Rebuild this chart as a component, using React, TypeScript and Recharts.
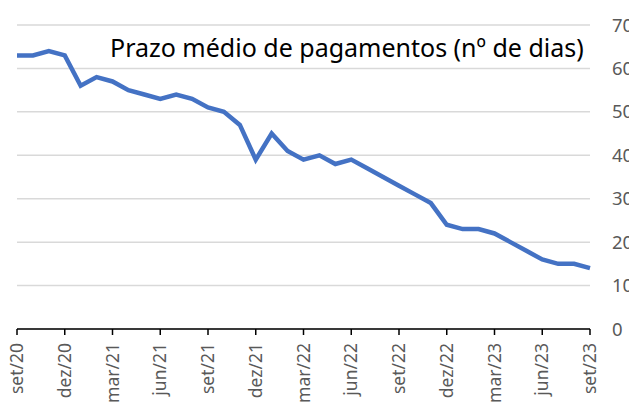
import { CartesianGrid, Line, LineChart, XAxis, YAxis } from "recharts";

const months = [
  "set/20", "out/20", "nov/20", "dez/20", "jan/21", "fev/21", "mar/21", "abr/21", "mai/21",
  "jun/21", "jul/21", "ago/21", "set/21", "out/21", "nov/21", "dez/21", "jan/22", "fev/22",
  "mar/22", "abr/22", "mai/22", "jun/22", "jul/22", "ago/22", "set/22", "out/22", "nov/22",
  "dez/22", "jan/23", "fev/23", "mar/23", "abr/23", "mai/23", "jun/23", "jul/23", "ago/23",
  "set/23",
];

const prazo = [
  63, 63, 64, 63, 56, 58, 57, 55, 54, 53, 54, 53, 51, 50, 47, 39, 45, 41, 39, 40, 38, 39,
  37, 35, 33, 31, 29, 24, 23, 23, 22, 20, 18, 16, 15, 15, 14,
];

const yTicks = [0, 10, 20, 30, 40, 50, 60, 70];

const data = months.map((m, i) => ({ month: m, prazo: prazo[i] }));

const font = "'Noto Sans', 'Open Sans', sans-serif";

function MonthTick(props: any) {
  const { x, y, payload } = props;
  return (
    <g transform={`translate(${x},${y})`}>
      <text
        transform="rotate(-90)"
        x={-8}
        y={0}
        dy="0.35em"
        textAnchor="end"
        fill="#595959"
        fontSize={17.5}
        fontFamily={font}
      >
        {payload.value}
      </text>
    </g>
  );
}

export default function App() {
  return (
    <div style={{ position: "absolute", left: 0, top: 0, background: "#fff" }}>
      <LineChart
        width={629}
        height={403}
        data={data}
        margin={{ top: 25, right: 0, bottom: 0, left: 17 }}
      >
        <CartesianGrid vertical={false} stroke="#d9d9d9" strokeWidth={1.5} />
        <XAxis
          dataKey="month"
          interval={2}
          height={74}
          stroke="#000"
          strokeWidth={1.5}
          tickSize={6}
          tickMargin={0}
          tick={<MonthTick />}
        />
        <YAxis
          orientation="right"
          domain={[0, 70]}
          ticks={yTicks}
          width={39}
          axisLine={false}
          tickLine={false}
          tickSize={0}
          tickMargin={22}
          tick={{ fill: "#595959", fontSize: 18.5, fontFamily: font }}
        />
        <Line
          type="linear"
          dataKey="prazo"
          stroke="#4472C4"
          strokeWidth={4.5}
          dot={false}
          isAnimationActive={false}
        />
        <text x={110} y={57} fontSize={25} fontFamily={font} fill="#000">
          Prazo médio de pagamentos (nº de dias)
        </text>
      </LineChart>
    </div>
  );
}
